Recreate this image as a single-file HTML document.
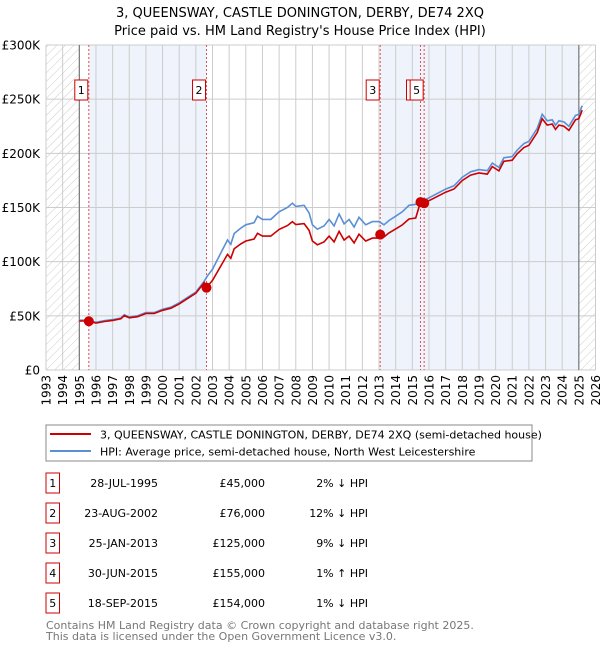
<!DOCTYPE html>
<html><head><meta charset="utf-8"><style>
body{margin:0;background:#fff;font-family:"Liberation Sans","DejaVu Sans",sans-serif;}
svg text{font-family:"DejaVu Sans","Liberation Sans",sans-serif;}
</style></head><body>
<svg id="c" width="600" height="650" xmlns="http://www.w3.org/2000/svg">
<defs><pattern id="hatch" width="6" height="6" patternUnits="userSpaceOnUse" patternTransform="rotate(45)"><line x1="0" y1="0" x2="0" y2="6" stroke="#ccc" stroke-width="1"/></pattern></defs>
<text x="300" y="17" text-anchor="middle" font-size="13">3, QUEENSWAY, CASTLE DONINGTON, DERBY, DE74 2XQ</text>
<text x="300" y="35" text-anchor="middle" font-size="13">Price paid vs. HM Land Registry's House Price Index (HPI)</text>
<g id="plot"></g>
<rect x="46" y="425" width="486" height="36" fill="#fff" stroke="#888"/>
<line x1="50" y1="434" x2="91" y2="434" stroke="#cc0000" stroke-width="2"/>
<text x="100" y="438.5" font-size="11">3, QUEENSWAY, CASTLE DONINGTON, DERBY, DE74 2XQ (semi-detached house)</text>
<line x1="50" y1="451" x2="91" y2="451" stroke="#5b8fd6" stroke-width="2"/>
<text x="100" y="455.5" font-size="11">HPI: Average price, semi-detached house, North West Leicestershire</text>
<g id="table"></g>
<text x="46" y="629" font-size="11" fill="#777">Contains HM Land Registry data © Crown copyright and database right 2025.</text>
<text x="46" y="640" font-size="11" fill="#777">This data is licensed under the Open Government Licence v3.0.</text>
</svg>
<script>
const hpiDates=[1995.0,1995.5,1996,1996.5,1997,1997.5,1997.7,1998,1998.5,1999,1999.5,2000,2000.5,2001,2001.5,2002,2002.5,2002.7,2003,2003.5,2003.9,2004.1,2004.3,2004.7,2005,2005.5,2005.7,2006,2006.5,2007,2007.5,2007.8,2008,2008.5,2008.8,2009,2009.3,2009.7,2010,2010.3,2010.6,2010.9,2011.2,2011.5,2011.8,2012.2,2012.6,2013,2013.3,2013.6,2014,2014.4,2014.8,2015.2,2015.5,2016,2016.5,2017,2017.5,2018,2018.5,2019,2019.5,2019.8,2020.2,2020.5,2021,2021.3,2021.7,2022,2022.5,2022.8,2023.1,2023.4,2023.6,2023.8,2024.1,2024.4,2024.8,2025,2025.2];
const hpiValues=[46,46,44,45.5,46.5,48,51,49,50,53,53,56,58,62,67,72,82,87,93,108,120,116,126,131,134,136,142,139,139,146,150,154,151,152,145,134,130,133,139,133,144,135,139,132,141,134,137,137,134,138,142,146,152,153,155,159,163,167,170,178,183,185,184,191,187,196,197,203,209,211,223,236,230,231,226,230,229,225,235,236,244];
const saleLabels=["1","2","3","4","5"];
const saleDates=[1995.57,2002.64,2013.07,2015.49,2015.71];
const saleDateText=["28-JUL-1995","23-AUG-2002","25-JAN-2013","30-JUN-2015","18-SEP-2015"];
const salePrices=[45,76,125,155,154];
const salePriceText=["£45,000","£76,000","£125,000","£155,000","£154,000"];
const saleHpiText=["2% ↓ HPI","12% ↓ HPI","9% ↓ HPI","1% ↑ HPI","1% ↓ HPI"];
const yTicks=[0,50,100,150,200,250,300];
const yTickLabels=["£0","£50K","£100K","£150K","£200K","£250K","£300K"];
const xYears=[];for(let y=1993;y<=2026;y++)xYears.push(y);

const NS="http://www.w3.org/2000/svg";
const X0=46,X1=595.5,Y0=370,Y1=45;
const xs=t=>X0+(t-1993)/(2026-1993)*(X1-X0);
const ys=v=>Y0-v/300*(Y0-Y1);
const plot=document.getElementById('plot');
function mk(tag,attrs,parent){const e=document.createElementNS(NS,tag);for(const k in attrs)e.setAttribute(k,attrs[k]);(parent||plot).appendChild(e);return e;}
function interp(t){for(let i=0;i<hpiDates.length-1;i++){if(t<=hpiDates[i+1]){const f=(t-hpiDates[i])/(hpiDates[i+1]-hpiDates[i]);return hpiValues[i]+f*(hpiValues[i+1]-hpiValues[i]);}}return hpiValues[hpiValues.length-1];}

let e;
e=mk('rect',{x:xs(saleDates[0]),y:Y1,width:xs(saleDates[1])-xs(saleDates[0]),height:Y0-Y1,fill:'#eef3fc'});


e=mk('rect',{x:xs(saleDates[2]),y:Y1,width:xs(2025)-xs(saleDates[2]),height:Y0-Y1,fill:'#eef3fc'});


e=mk('rect',{x:X0,y:Y1,width:xs(1995)-X0,height:Y0-Y1,fill:'url(#hatch)'});


e=mk('rect',{x:xs(2025),y:Y1,width:X1-xs(2025),height:Y0-Y1,fill:'url(#hatch)'});


xYears.forEach((y,i)=>{
 e=mk('line',{x1:xs(y),x2:xs(y),y1:Y1,y2:Y0,stroke:'#ccc','stroke-width':1});
 
 
 e=mk('text',{x:0,y:0,'font-size':12,'text-anchor':'end',transform:`translate(${xs(y)+4.5},375) rotate(-90)`});
 e.textContent=y;
 
 
});
yTicks.forEach((v,i)=>{
 e=mk('line',{x1:X0,x2:X1,y1:ys(v),y2:ys(v),stroke:'#ccc','stroke-width':1});
 
 
 e=mk('text',{x:40,y:ys(v)+4.5,'font-size':12,'text-anchor':'end'});
 e.textContent=yTickLabels[i];
 
 
});
e=mk('line',{x1:xs(1995),x2:xs(1995),y1:Y1,y2:Y0,stroke:'#666'});


e=mk('line',{x1:xs(2025),x2:xs(2025),y1:Y1,y2:Y0,stroke:'#666'});


saleDates.forEach(d=>{
 e=mk('line',{x1:xs(d),x2:xs(d),y1:Y1,y2:Y0,stroke:'#e05050','stroke-width':1,'stroke-dasharray':'2,2'});
 
 
});
let pts=hpiDates.map((d,i)=>xs(d).toFixed(1)+','+ys(hpiValues[i]).toFixed(1)).join(' ');
e=mk('polyline',{points:pts,fill:'none',stroke:'#5b8fd6','stroke-width':1.6});


const ratios=saleDates.map((d,i)=>salePrices[i]/interp(d));
let rp=[];
const allT=hpiDates.concat(saleDates).sort((a,b)=>a-b);
allT.forEach(t=>{let k=0;for(let i=0;i<saleDates.length;i++)if(t>=saleDates[i])k=i;rp.push(xs(t).toFixed(1)+','+ys(interp(t)*ratios[k]).toFixed(1));});
e=mk('polyline',{points:rp.join(' '),fill:'none',stroke:'#cc0000','stroke-width':1.6});


saleDates.forEach((d,i)=>{
 e=mk('circle',{cx:xs(d),cy:ys(salePrices[i]),r:5,fill:'#cc0000'});
 
 
 const g=mk('g',{});
 
 
 const bx=xs(d)-14;
 mk('rect',{x:bx,y:80,width:13,height:20,fill:'#fff',stroke:'#cc0000'},g);
 const t=mk('text',{x:bx+6.5,y:94,'font-size':11,'text-anchor':'middle'},g);t.textContent=saleLabels[i];
});
const table=document.getElementById('table');
saleLabels.forEach((l,i)=>{
 const cy=483+i*30;
 const g=mk('g',{},table);
 
 
 mk('rect',{x:46,y:cy-10,width:13.5,height:20,fill:'#fff',stroke:'#cc0000'},g);
 let t=mk('text',{x:52.8,y:cy+4,'font-size':11,'text-anchor':'middle'},g);t.textContent=l;
 t=mk('text',{x:158,y:cy+4,'font-size':11,'text-anchor':'end'},g);t.textContent=saleDateText[i];
 t=mk('text',{x:265,y:cy+4,'font-size':11,'text-anchor':'end'},g);t.textContent=salePriceText[i];
 t=mk('text',{x:368,y:cy+4,'font-size':11,'text-anchor':'end'},g);t.textContent=saleHpiText[i];
});
</script>
</body></html>
